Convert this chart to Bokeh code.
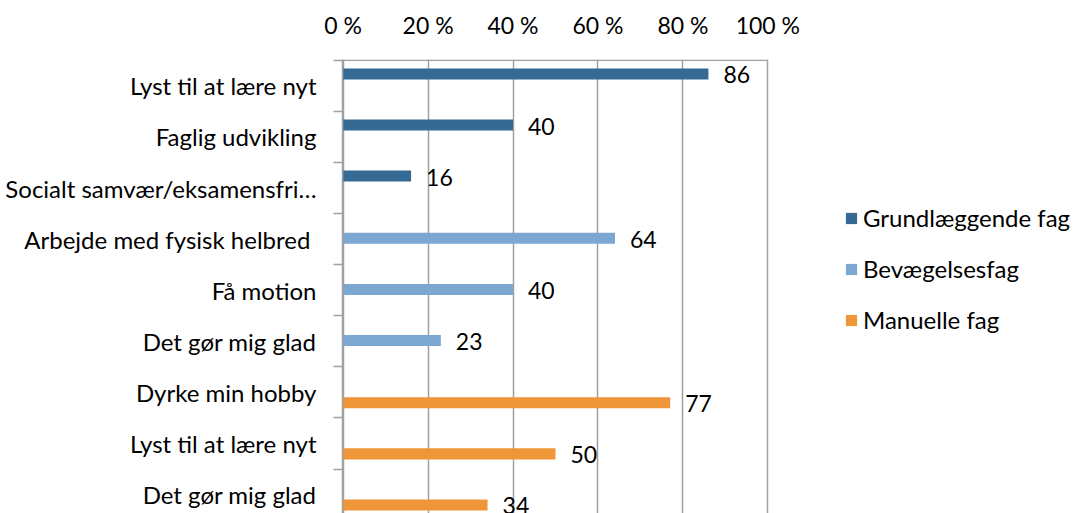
from bokeh.plotting import figure
from bokeh.models import (ColumnDataSource, Range1d, FixedTicker, Legend, LegendItem)
from bokeh.core.properties import value
from bokeh.embed import file_html
from bokeh.resources import INLINE

# ---- data ----
groups = ["Grundlæggende fag", "Bevægelsesfag", "Manuelle fag"]
group_colors = ["#346A93", "#7CA7D0", "#EF9638"]
categories = ["Lyst til at lære nyt", "Faglig udvikling", "Socialt samvær/eksamensfri…",
              "Arbejde med  fysisk helbred", "Få motion", "Det gør mig glad",
              "Dyrke min hobby", "Lyst til at lære nyt", "Det gør mig glad"]
values = [86, 40, 16, 64, 40, 23, 77, 50, 34]
group_of = [0, 0, 0, 1, 1, 1, 2, 2, 2]
x_ticks = [0, 20, 40, 60, 80, 100]
x_tick_labels = ["0 %", "20 %", "40 %", "60 %", "80 %", "100 %"]

FONT = "Lato"
FS = "23px"
FS_CAT = "24px"
GRID = "#A0A0A0"
BAR_H = 0.216
OFFSETS = [-0.218, 0.0, 0.218]

# layout: plot area 0..100 % spans 426 px; frame extends to the right to host the legend
W, H = 1078, 513
LEFT, TOP = 342, 59
PX_PER_UNIT = 426 / 100.3
x_end = -0.15 + (W - LEFT) / PX_PER_UNIT

p = figure(width=W, height=H, output_backend="svg", toolbar_location=None,
           x_range=Range1d(-0.15, x_end), y_range=Range1d(start=8.87, end=-0.015),
           x_axis_location="above", min_border_left=LEFT, min_border_right=0,
           min_border_top=TOP, min_border_bottom=0)
p.outline_line_color = None
p.background_fill_color = "white"
p.border_fill_color = "white"

# top axis (labels only; border drawn as a segment over 0..100)
p.xaxis.ticker = FixedTicker(ticks=x_ticks)
p.xaxis.major_label_overrides = {t: l for t, l in zip(x_ticks, x_tick_labels)}
p.xaxis.major_tick_in = 0
p.xaxis.major_tick_out = 0
p.xaxis.minor_tick_in = 0
p.xaxis.minor_tick_out = 0
p.xaxis.axis_line_color = None
p.xaxis.major_label_text_font = FONT
p.xaxis.major_label_text_font_size = FS
p.xaxis.major_label_text_color = "black"
p.xaxis.major_label_standoff = 21

# left axis: labels at band centres, tick marks at band boundaries
rows = list(range(len(categories)))
centers = [r + 0.5 for r in rows]
p.yaxis.ticker = FixedTicker(ticks=centers, minor_ticks=list(range(len(categories) + 1)))
p.yaxis.major_label_overrides = {c: t for c, t in zip(centers, categories)}
p.yaxis.major_tick_out = 0
p.yaxis.major_tick_in = 0
p.yaxis.minor_tick_out = 9
p.yaxis.minor_tick_in = 0
p.yaxis.minor_tick_line_color = GRID
p.yaxis.minor_tick_line_width = 1.5
p.yaxis.axis_line_color = GRID
p.yaxis.axis_line_width = 1.5
p.yaxis.major_label_standoff = 17
p.yaxis.major_label_text_font = FONT
p.yaxis.major_label_text_font_size = FS_CAT
p.yaxis.major_label_text_color = "black"

p.xgrid.ticker = FixedTicker(ticks=x_ticks)
p.xgrid.grid_line_color = GRID
p.xgrid.grid_line_width = 1.5
p.ygrid.grid_line_color = None

# top border of the plot area
p.segment(x0=[x_ticks[0]], x1=[x_ticks[-1]], y0=[0], y1=[0],
          line_color=GRID, line_width=1.5)

bar_y = [r + 0.485 + OFFSETS[g] for r, g in zip(rows, group_of)]

items = []
for gi, gname in enumerate(groups):
    idx = [i for i in rows if group_of[i] == gi]
    src = ColumnDataSource(dict(y=[bar_y[i] for i in idx], right=[values[i] for i in idx],
                                lab=[str(values[i]) for i in idx]))
    r = p.hbar(y="y", right="right", left=0, height=BAR_H, source=src,
               fill_color=group_colors[gi], line_color=None)
    p.text(x="right", y="y", text="lab", source=src, x_offset=15, y_offset=1,
           text_font=value(FONT), text_font_size=FS, text_color="black",
           text_baseline="middle", text_align="left")
    items.append(LegendItem(label=gname, renderers=[r]))

legend = Legend(items=items, location=(502, 179), orientation="vertical",
                glyph_width=14, glyph_height=14, label_height=24, spacing=22,
                label_standoff=5, padding=0, margin=0,
                label_text_font=FONT, label_text_font_size=FS_CAT,
                label_text_color="black", border_line_color=None,
                background_fill_alpha=0)
p.add_layout(legend)

open("out.html", "w").write(file_html(p, INLINE))
